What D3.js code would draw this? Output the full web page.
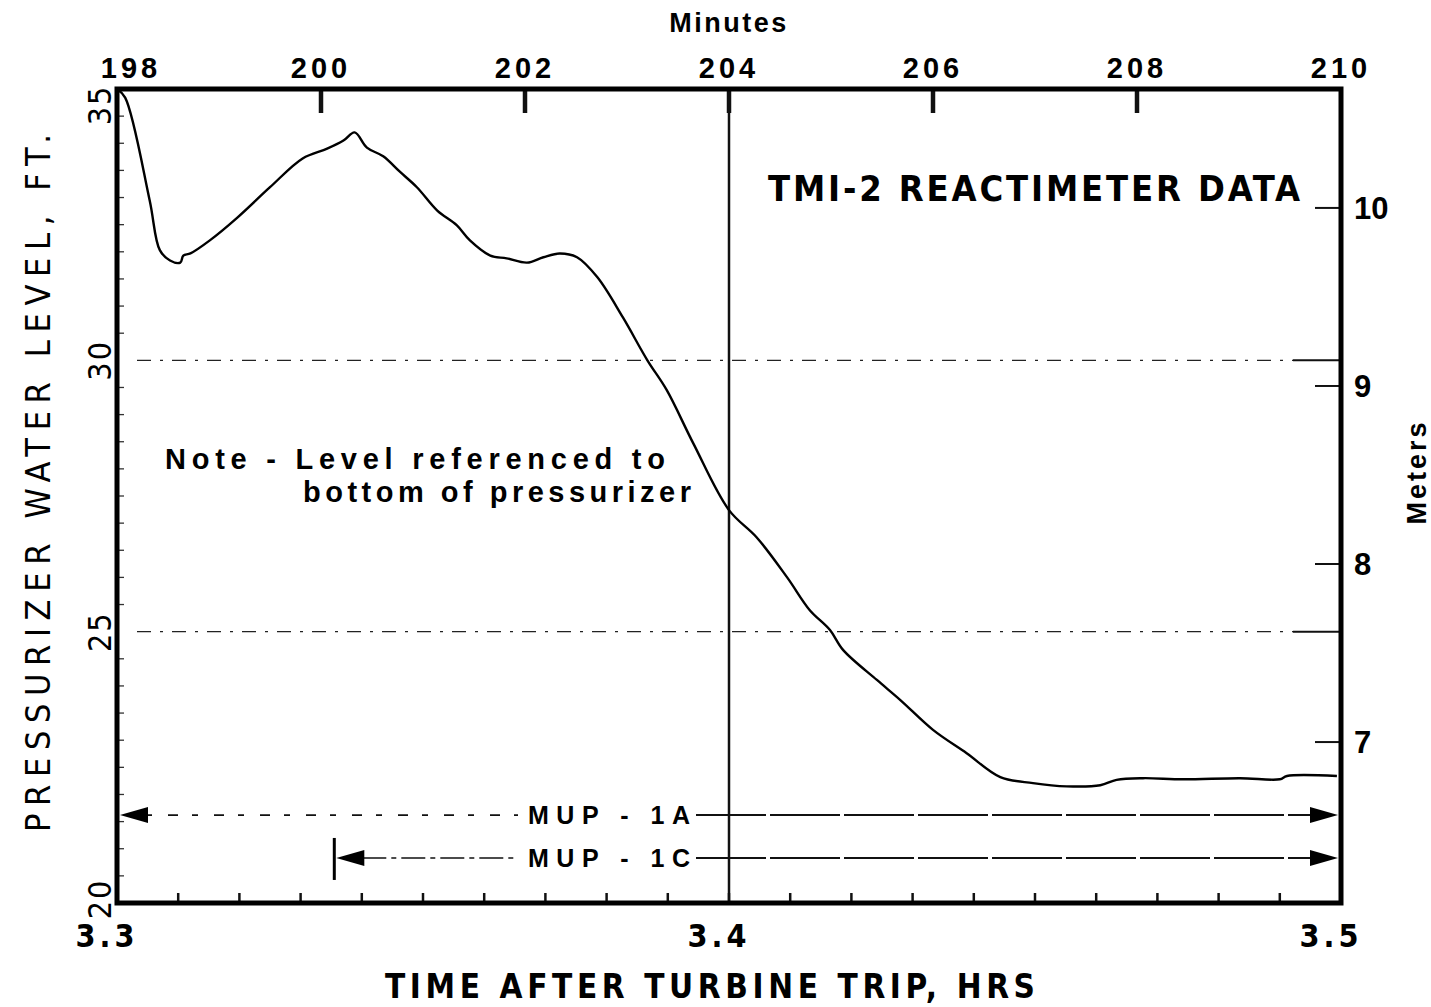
<!DOCTYPE html>
<html>
<head>
<meta charset="utf-8">
<script src="https://cdn.jsdelivr.net/npm/d3@7"></script>
<style>
  html, body { margin: 0; padding: 0; background: #fff; }
  svg { display: block; }
  .bold { font-family: "Liberation Sans", Arial, Helvetica, sans-serif; font-weight: bold; }
  .cond { font-family: "Liberation Sans Narrow", "DejaVu Sans Condensed", "Arial Narrow", sans-serif; font-stretch: condensed; }
</style>
</head>
<body>
<script>
// ---- data (minutes after turbine trip, level in ft) ----
const minutes = [198.0, 198.08, 198.32, 198.42, 198.52, 198.62, 198.65, 198.72, 198.91, 199.18, 199.5, 199.82,
  200.06, 200.22, 200.33, 200.45, 200.61, 200.77, 200.94, 201.14, 201.33, 201.46, 201.66, 201.82, 202.02,
  202.18, 202.34, 202.51, 202.71, 202.96, 203.2, 203.39, 203.65, 204.0, 204.27, 204.57, 204.79, 204.99,
  205.12, 205.45, 205.68, 206.0, 206.33, 206.66, 206.98, 207.31, 207.64, 207.8, 208.06, 208.45, 209.01,
  209.4, 209.47, 209.96];
const levelFt = [35.0, 34.84, 32.95, 32.03, 31.84, 31.8, 31.93, 31.97, 32.21, 32.63, 33.19, 33.72,
  33.9, 34.05, 34.2, 33.92, 33.76, 33.48, 33.19, 32.76, 32.49, 32.21, 31.93, 31.88, 31.8,
  31.9, 31.97, 31.9, 31.53, 30.79, 30.0, 29.45, 28.47, 27.24, 26.74, 26.0, 25.4, 25.03,
  24.66, 24.11, 23.74, 23.19, 22.76, 22.32, 22.21, 22.15, 22.17, 22.27, 22.3, 22.28, 22.3,
  22.28, 22.34, 22.34];

const minuteTicks = [198, 200, 202, 204, 206, 208, 210];
const hourTicks = [3.3, 3.4, 3.5];
const ftTicks = [20, 25, 30, 35];
const meterTicks = [7, 8, 9, 10];
const gridFt = [25, 30];

const mupLabels = ["MUP - 1A", "MUP - 1C"];
const mupStartMin = [198, 200.15];
const mupEndMin = [210, 210];
const mupLevelFt = [21.62, 20.83];

// ---- layout ----
const W = 1431, H = 1007;
const L = 117, R = 1341, T = 89, B = 903;

const svg = d3.select("body").append("svg").attr("width", W).attr("height", H);

const x = d3.scaleLinear().domain([198, 210]).range([L, R]);
const xh = d3.scaleLinear().domain([3.3, 3.5]).range([L, R]);
const y = d3.scaleLinear().domain([20, 35]).range([B, T]);
const FT_PER_M = 3.28084;
const ym = d3.scaleLinear().domain([20 / FT_PER_M, 35 / FT_PER_M]).range([B, T]);

// gridlines (dash-dot)
svg.selectAll("line.grid").data(gridFt).enter().append("line")
  .attr("x1", L + 20).attr("x2", R - 48)
  .attr("y1", d => y(d)).attr("y2", d => y(d))
  .attr("stroke", "#222").attr("stroke-width", 1.4)
  .attr("stroke-dasharray", "14,9,3,9");
svg.selectAll("line.gridtick").data(gridFt).enter().append("line")
  .attr("x1", R - 48).attr("x2", R)
  .attr("y1", d => y(d)).attr("y2", d => y(d))
  .attr("stroke", "#111").attr("stroke-width", 2);

// vertical line at 3.4 hr
svg.append("line")
  .attr("x1", xh(3.4)).attr("x2", xh(3.4)).attr("y1", T).attr("y2", B)
  .attr("stroke", "#111").attr("stroke-width", 2.5);

// bottom minor ticks (every 0.01 hr)
const bottomMinor = d3.range(1, 20).map(i => 3.3 + i * 0.01);
svg.selectAll("line.bt").data(bottomMinor).enter().append("line")
  .attr("x1", d => xh(d)).attr("x2", d => xh(d)).attr("y1", B).attr("y2", B - 10)
  .attr("stroke", "#111").attr("stroke-width", 2.5);

// top ticks
svg.selectAll("line.tt").data(minuteTicks.slice(1, -1)).enter().append("line")
  .attr("x1", d => x(d)).attr("x2", d => x(d)).attr("y1", T).attr("y2", T + 24)
  .attr("stroke", "#111").attr("stroke-width", 4.5);

// left minor ticks every 0.5 ft
const leftMinor = d3.range(1, 30).map(i => 20 + i * 0.5).filter(v => v !== 25 && v !== 30);
svg.selectAll("line.lt").data(leftMinor).enter().append("line")
  .attr("x1", L).attr("x2", L + 7).attr("y1", d => y(d)).attr("y2", d => y(d))
  .attr("stroke", "#333").attr("stroke-width", 1.3);

// right meter ticks
svg.selectAll("line.rt").data(meterTicks).enter().append("line")
  .attr("x1", R - 26).attr("x2", R).attr("y1", d => ym(d)).attr("y2", d => ym(d))
  .attr("stroke", "#111").attr("stroke-width", 2);

// frame
svg.append("rect").attr("x", L).attr("y", T).attr("width", R - L).attr("height", B - T)
  .attr("fill", "none").attr("stroke", "#000").attr("stroke-width", 5);

// data curve
const line = d3.line().x((d, i) => x(minutes[i])).y(d => y(d)).curve(d3.curveCatmullRom.alpha(0.5));
svg.append("path").datum(levelFt).attr("d", line)
  .attr("fill", "none").attr("stroke", "#000").attr("stroke-width", 2.4)
  .attr("stroke-linejoin", "round");

// top axis labels
svg.selectAll("text.tl").data(minuteTicks).enter().append("text")
  .attr("class", "bold").attr("x", (d, i) => x(d) + (i === 0 ? 14 : 0)).attr("y", 78)
  .attr("text-anchor", "middle").attr("font-size", 29).attr("letter-spacing", 4)
  .text(d => d);
svg.append("text").attr("class", "bold").attr("x", x(204)).attr("y", 32)
  .attr("text-anchor", "middle").attr("font-size", 27).attr("letter-spacing", 2.5).text("Minutes");

// bottom axis labels
svg.selectAll("text.bl").data(hourTicks).enter().append("text")
  .attr("class", "cond").attr("font-weight", "bold")
  .attr("x", d => xh(d) - 10).attr("y", 947)
  .attr("text-anchor", "middle").attr("font-size", 32).attr("letter-spacing", 4)
  .text(d => d3.format(".1f")(d));
svg.append("text").attr("class", "cond").attr("font-weight", "bold")
  .attr("x", 385).attr("y", 998).attr("font-size", 33)
  .attr("textLength", 650).attr("lengthAdjust", "spacing")
  .text("TIME AFTER TURBINE TRIP, HRS");

// left axis labels (rotated)
svg.selectAll("text.ll").data(ftTicks).enter().append("text")
  .attr("class", "cond")
  .attr("transform", d => `translate(111,${d === 35 ? y(d) + 16 : (d === 20 ? y(d) - 4 : y(d))}) rotate(-90)`)
  .attr("text-anchor", "middle").attr("font-size", 32).attr("letter-spacing", 2)
  .text(d => d);
svg.append("text").attr("class", "cond")
  .attr("transform", "translate(50,832) rotate(-90)")
  .attr("font-size", 34).attr("textLength", 698).attr("lengthAdjust", "spacing")
  .text("PRESSURIZER WATER LEVEL, FT.");

// right axis labels
svg.selectAll("text.rl").data(meterTicks).enter().append("text")
  .attr("class", "bold").attr("x", 1354).attr("y", d => ym(d) + 11)
  .attr("font-size", 31).text(d => d);
svg.append("text").attr("class", "bold")
  .attr("transform", "translate(1426,472) rotate(-90)")
  .attr("text-anchor", "middle").attr("font-size", 27).attr("letter-spacing", 3).text("Meters");

// annotations
svg.append("text").attr("class", "cond").attr("font-weight", "bold")
  .attr("x", 768).attr("y", 201).attr("font-size", 36)
  .attr("textLength", 532).attr("lengthAdjust", "spacing").text("TMI-2 REACTIMETER DATA");
svg.append("text").attr("class", "bold").attr("x", 165).attr("y", 469).attr("font-size", 29)
  .attr("textLength", 500).attr("lengthAdjust", "spacing").text("Note - Level referenced to");
svg.append("text").attr("class", "bold").attr("x", 303).attr("y", 502).attr("font-size", 29)
  .attr("textLength", 388).attr("lengthAdjust", "spacing").text("bottom of pressurizer");

// MUP bars
const labelX0 = 528, labelX1 = 690;
const mup = svg.selectAll("g.mup").data(mupLabels).enter().append("g");
mup.each(function(lbl, i) {
  const g = d3.select(this);
  const yy = y(mupLevelFt[i]);
  const xs = x(mupStartMin[i]) + (i === 0 ? 3 : 0), xe = x(mupEndMin[i]) - 3;
  g.append("line").attr("x1", xs + 26).attr("x2", labelX0 - 10).attr("y1", yy).attr("y2", yy)
    .attr("stroke", "#111").attr("stroke-width", 1.6)
    .attr("stroke-dasharray", i === 0 ? "6,16,10,14" : "24,5,5,5");
  g.append("line").attr("x1", labelX1 + 6).attr("x2", xe - 26).attr("y1", yy).attr("y2", yy)
    .attr("stroke", "#111").attr("stroke-width", 2)
    .attr("stroke-dasharray", "70,4");
  g.append("path").attr("d", `M${xs},${yy} L${xs + 28},${yy - 8} L${xs + 28},${yy + 8} Z`).attr("fill", "#000");
  g.append("path").attr("d", `M${xe},${yy} L${xe - 28},${yy - 8} L${xe - 28},${yy + 8} Z`).attr("fill", "#000");
  if (i === 1) {
    g.append("line").attr("x1", xs - 2).attr("x2", xs - 2).attr("y1", yy - 20).attr("y2", yy + 22)
      .attr("stroke", "#000").attr("stroke-width", 3);
  }
  g.append("text").attr("class", "bold").attr("x", labelX0).attr("y", yy + 9)
    .attr("font-size", 25).attr("textLength", labelX1 - labelX0).attr("lengthAdjust", "spacing")
    .text(lbl);
});
</script>
</body>
</html>
